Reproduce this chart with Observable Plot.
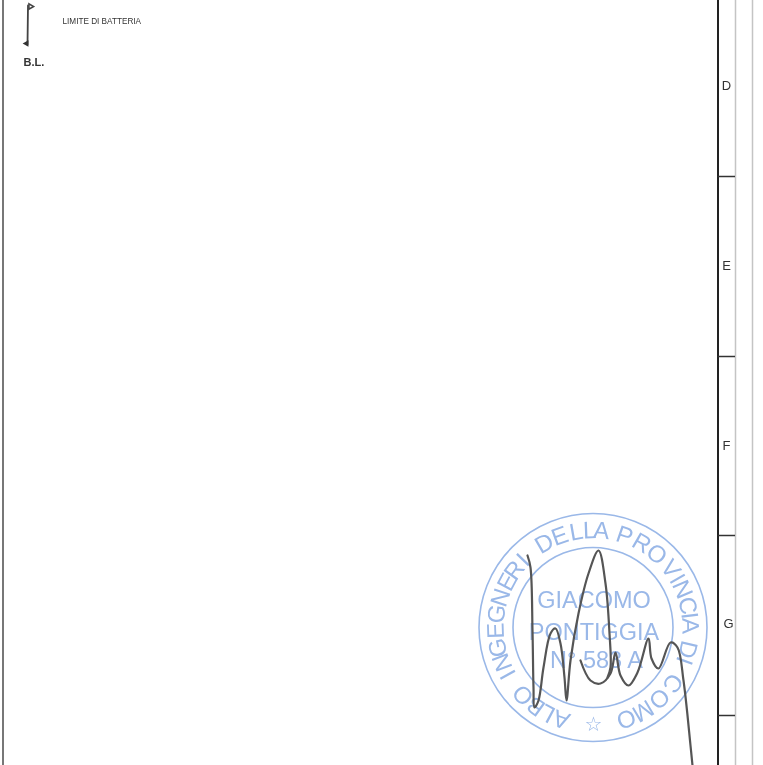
<!DOCTYPE html>
<html><head><meta charset="utf-8">
<script src="https://cdn.jsdelivr.net/npm/d3@7"></script>
<script src="https://cdn.jsdelivr.net/npm/@observablehq/plot@0.6"></script>
<style>html,body{margin:0;padding:0;background:#fff}svg{display:block}</style>
</head><body><div id="chart"></div>
<script>
// Sheet grid (drawing units)
const frameX = [2.5];
const gridHeavyX = [717.5];
const gridLightX = [735, 752];
const zoneBreaksY = [176, 356, 535, 715];
const zoneLetters = ["D", "E", "F", "G"];
const zoneLetterX = [726, 726, 726, 728];
const zoneLetterY = [85, 265, 445, 623];

// Legend
const legendStem = [[27.5, 5], [27, 44]];
const legendLabels = ["LIMITE DI BATTERIA", "B.L."];

// Stamp
const stampCenter = [592.5, 627];
const stampRadii = [114, 80];
const ringLetters = [..."ALBOINGEGNERIDELLAPROVINCIADICOMO"];
const ringAngles = [199,208,216,226,241,249,258,268,278,288,298,306,314,330,340,350,358,5,19,30,41,53,60,67,77,83,89,103,110,125,137,149,160];
const stampLines = ["GIACOMO", "PONTIGGIA", "N° 583 A"];
const stampLineY = [600, 632, 660];

// Signature
const signatureA = [[527,555],[530,567],[532,630],[533,687],[534,707],[538,700],[543,667],[550,633],[555,628],[560,643],[564,677],[566,700],[570,660],[578,613],[588,573],[598,550],[605,583],[609,633],[610,667],[607,677]];
const signatureB = [[580,660],[590,680],[600,683],[610,673],[615,652],[620,675],[628,685],[637,672],[648,638],[651,658],[658,668],[670,642],[677,647],[683,680],[690,745],[692,765]];

const blue = "#9ab8e8";
const ringData = ringLetters.map((c, i) => {
  const a = ringAngles[i] * Math.PI / 180;
  return {c, x: stampCenter[0] + 97 * Math.sin(a), y: stampCenter[1] - 97 * Math.cos(a), r: ringAngles[i]};
});
const font = "Liberation Sans";

const plot = Plot.plot({
  width: 763, height: 765,
  marginTop: 0, marginRight: 0, marginBottom: 0, marginLeft: 0,
  x: {domain: [0, 763], range: [0, 763], axis: null},
  y: {domain: [0, 765], range: [0, 765], axis: null},
  style: {background: "#fff", fontFamily: font, filter: "blur(0.45px)"},
  marks: [
    Plot.ruleX(frameX, {stroke: "#777", strokeWidth: 2}),
    Plot.ruleX(gridLightX, {stroke: "#c4c4c4", strokeWidth: 1.5}),
    Plot.ruleX(gridHeavyX, {stroke: "#222", strokeWidth: 2}),
    Plot.ruleY(zoneBreaksY, {x1: gridHeavyX[0], x2: gridLightX[0], stroke: "#333", strokeWidth: 1.5}),
    Plot.text(zoneLetters, {x: zoneLetterX, y: zoneLetterY, text: d => d, fontSize: 13, fill: "#333"}),

    Plot.line(legendStem, {stroke: "#444", strokeWidth: 1.8}),
    Plot.dot([[30, 6]], {symbol: "triangle", r: 2, rotate: 90, fill: "#fff", stroke: "#444"}),
    Plot.dot([[26, 43]], {symbol: "triangle", r: 2.5, rotate: 270, fill: "#333"}),
    Plot.text([legendLabels[0]], {x: 62, y: 21, text: d => d, textAnchor: "start", fontSize: 8.2, fill: "#333"}),
    Plot.text([legendLabels[1]], {x: 23, y: 62, text: d => d, textAnchor: "start", fontSize: 11, fontWeight: "bold", fill: "#333"}),

    Plot.dot([stampCenter], {r: stampRadii[0], stroke: blue, strokeWidth: 1.6, fill: "none"}),
    Plot.dot([stampCenter], {r: stampRadii[1], stroke: blue, strokeWidth: 1.6, fill: "none"}),
    Plot.text(ringData, {x: "x", y: "y", text: "c", rotate: "r", fontSize: 24, fill: blue}),
    Plot.text(["☆"], {x: 593, y: 724, text: d => d, fontSize: 20, fontWeight: "bold", fill: blue, fontFamily: "DejaVu Sans"}),
    Plot.text(stampLines, {x: [593.5, 593.5, 596], y: stampLineY, text: d => d, fontSize: 23.5, fill: blue}),

    Plot.line(signatureA, {curve: "catmull-rom", stroke: "#555", strokeWidth: 2.2}),
    Plot.line(signatureB, {curve: "catmull-rom", stroke: "#555", strokeWidth: 2.2})
  ]
});
document.getElementById("chart").append(plot);
</script></body></html>
